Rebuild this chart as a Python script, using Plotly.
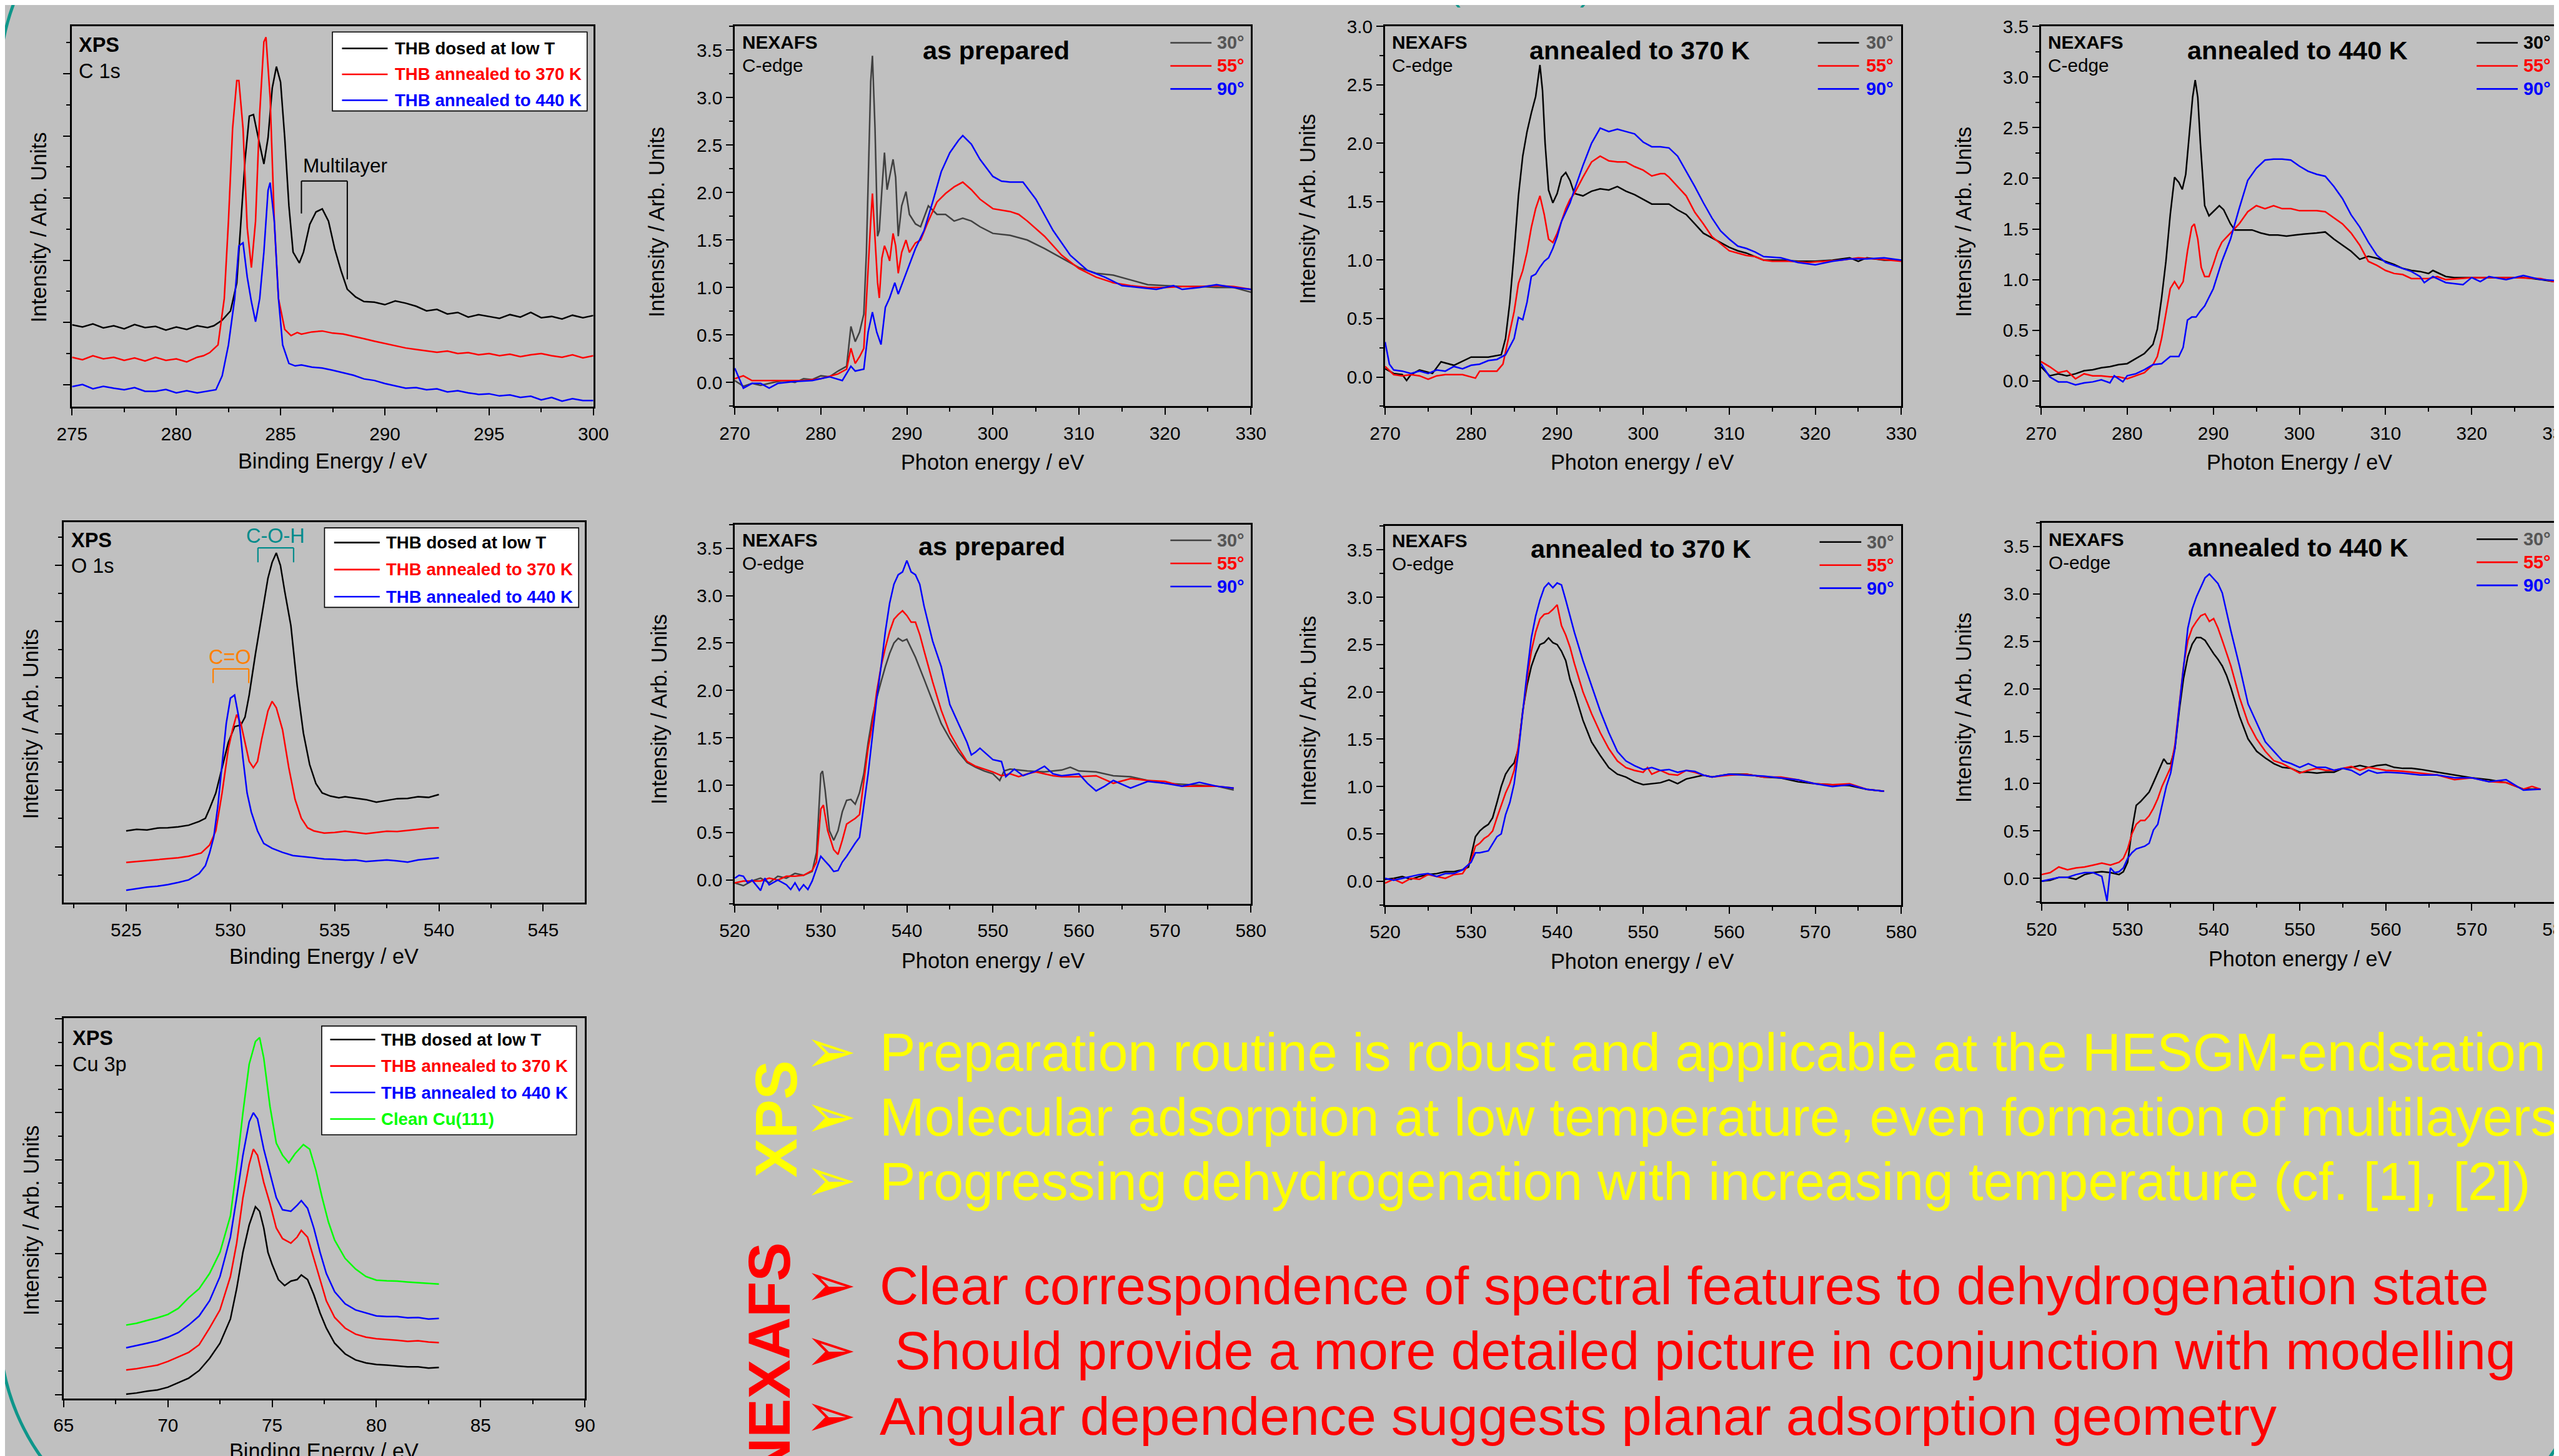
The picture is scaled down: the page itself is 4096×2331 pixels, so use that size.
import plotly.graph_objects as go

# ---------------- DATA ----------------
# XPS C 1s  [binding energy eV, intensity arb.]
c1s_low = [[275,265],[275.5,258],[276,268],[276.5,255],[277,262],[277.5,252],[278,266],[278.5,256],[279,260],[279.5,248],
           [280,258],[280.5,250],[281,262],[281.5,256],[281.8,262],[282.2,280],[282.6,310],[282.9,400],[283.1,600],[283.3,800],
           [283.5,940],[283.7,945],[283.9,880],[284.1,820],[284.2,785],[284.4,870],[284.6,1030],[284.8,1100],[285.0,1050],[285.2,870],
           [285.4,650],[285.6,500],[285.9,465],[286.1,500],[286.4,590],[286.7,630],[287.0,640],[287.3,600],[287.6,510],[287.9,440],
           [288.2,380],[288.6,355],[289,340],[289.5,338],[290,330],[290.5,342],[291,335],[291.5,325],[292,310],[292.5,315],
           [293,300],[293.5,305],[294,290],[294.5,298],[295,292],[295.5,286],[296,298],[296.5,290],[297,305],[297.5,288],
           [298,292],[298.5,284],[299,296],[299.5,288],[300,295]]
c1s_370 = [[275,160],[275.5,152],[276,165],[276.5,155],[277,160],[277.5,150],[278,158],[278.5,148],[279,160],[279.5,150],
           [280,155],[280.5,145],[281,160],[281.3,165],[281.6,175],[282.0,200],[282.3,350],[282.5,600],[282.7,900],[282.9,1055],
           [283.0,1055],[283.2,900],[283.4,580],[283.6,450],[283.8,600],[284.0,950],[284.2,1180],[284.3,1195],[284.5,1000],[284.7,600],
           [284.9,350],[285.2,250],[285.5,230],[285.8,240],[286,235],[286.5,242],[287,245],[287.5,238],[288,235],[288.5,228],
           [289,220],[289.5,212],[290,205],[290.5,198],[291,190],[291.5,185],[292,180],[292.5,176],[293,180],[293.5,172],
           [294,175],[294.5,168],[295,172],[295.5,165],[296,170],[296.5,162],[297,168],[297.5,172],[298,165],[298.5,160],
           [299,168],[299.5,158],[300,165]]
c1s_440 = [[275,65],[275.5,72],[276,58],[276.5,66],[277,60],[277.5,55],[278,62],[278.5,50],[279,50],[279.5,56],
           [280,45],[280.5,52],[281,45],[281.5,50],[281.9,55],[282.2,100],[282.5,200],[282.8,350],[283.0,520],[283.2,530],
           [283.4,420],[283.6,340],[283.8,275],[284.0,350],[284.2,500],[284.4,700],[284.5,725],[284.7,600],[284.9,350],[285.1,200],
           [285.4,140],[285.7,132],[286,135],[286.5,128],[287,125],[287.5,118],[288,110],[288.5,102],[289,90],[289.5,85],
           [290,75],[290.5,68],[291,60],[291.5,62],[292,55],[292.5,58],[293,48],[293.5,52],[294,45],[294.5,40],
           [295,42],[295.5,35],[296,38],[296.5,30],[297,34],[297.5,22],[298,30],[298.5,18],[299,26],[299.5,20],[300,20]]

# XPS O 1s
o1s_low = [[525,227],[525.5,232],[526,230],[526.5,236],[527,237],[527.5,240],[528,245],[528.5,257],[528.8,267],[529.0,297],
           [529.3,347],[529.6,427],[529.9,507],[530.2,557],[530.5,562],[530.7,587],[530.9,657],[531.2,787],[531.5,907],[531.8,1027],
           [532.0,1077],[532.2,1107],[532.4,1067],[532.6,987],[532.9,877],[533.2,687],[533.5,537],[533.8,437],[534.1,377],[534.4,347],
           [534.8,337],[535.2,332],[535.5,335],[536,330],[536.5,326],[537,318],[537.5,324],[538,329],[538.5,330],[539,335],
           [539.5,333],[540,342]]
o1s_370 = [[525,127],[525.5,130],[526,132],[526.5,136],[527,139],[527.5,142],[528,147],[528.6,157],[529.0,182],[529.3,227],
           [529.6,347],[529.9,487],[530.1,547],[530.3,595],[530.5,567],[530.7,507],[530.9,447],[531.1,427],[531.3,447],[531.5,517],
           [531.8,607],[532.0,637],[532.2,617],[532.5,547],[532.8,427],[533.1,327],[533.4,267],[533.7,237],[534.0,227],[534.5,220],
           [535,222],[535.5,226],[536,222],[536.5,218],[537,222],[537.5,226],[538,225],[538.5,228],[539,232],[539.5,236],[540,237]]
o1s_440 = [[525,39],[525.5,44],[526,49],[526.5,52],[527,57],[527.5,64],[528,72],[528.5,92],[528.8,117],[529.0,157],
           [529.2,207],[529.4,307],[529.6,437],[529.8,567],[530.0,647],[530.2,657],[530.4,587],[530.6,457],[530.8,347],[531.0,287],
           [531.3,227],[531.6,187],[532,172],[532.5,159],[533,149],[533.5,146],[534,142],[534.5,138],[535,137],[535.5,134],
           [536,135],[536.5,130],[537,132],[537.5,135],[538,132],[538.5,128],[539,135],[539.5,138],[540,142]]

# XPS Cu 3p
cu_low = [[68,14],[68.5,18],[69,24],[69.5,28],[70,37],[70.5,52],[71,67],[71.5,92],[72,132],[72.5,182],[73,262],[73.3,362],
          [73.6,482],[73.9,572],[74.2,632],[74.4,617],[74.6,562],[74.8,482],[75.0,442],[75.3,392],[75.6,372],[75.9,387],
          [76.2,392],[76.4,407],[76.7,392],[77.0,342],[77.3,282],[77.6,232],[78,182],[78.5,147],[79,127],[79.5,117],
          [80,112],[80.5,110],[81,107],[81.5,104],[82,104],[82.5,100],[83,102]]
cu_370 = [[68,94],[68.5,98],[69,104],[69.5,110],[70,122],[70.5,137],[71,152],[71.5,177],[72,232],[72.5,292],[73,402],[73.3,512],
          [73.6,662],[73.9,772],[74.1,822],[74.3,802],[74.6,712],[74.9,642],[75.2,562],[75.5,527],[75.9,512],[76.2,532],
          [76.4,554],[76.7,532],[77.0,462],[77.3,392],[77.6,322],[78,267],[78.5,232],[79,212],[79.5,202],[80,197],
          [80.5,195],[81,192],[81.5,188],[82,190],[82.5,186],[83,184]]
cu_440 = [[68,167],[68.5,174],[69,182],[69.5,190],[70,202],[70.5,217],[71,242],[71.5,272],[72,322],[72.5,402],[73,532],[73.3,662],
          [73.6,802],[73.9,912],[74.1,942],[74.3,922],[74.6,822],[74.9,742],[75.2,662],[75.5,622],[75.9,617],[76.2,637],
          [76.4,652],[76.7,627],[77.0,562],[77.3,482],[77.6,412],[78,352],[78.5,312],[79,292],[79.5,282],[80,272],
          [80.5,270],[81,270],[81.5,266],[82,267],[82.5,262],[83,264]]
cu_clean = [[68,242],[68.5,248],[69,257],[69.5,266],[70,277],[70.5,297],[71,332],[71.5,362],[72,412],[72.5,482],[73,602],[73.3,762],
            [73.6,942],[73.9,1102],[74.2,1177],[74.4,1190],[74.6,1122],[74.9,962],[75.2,842],[75.5,802],[75.8,777],[76.1,807],
            [76.5,837],[76.8,822],[77.1,752],[77.4,662],[77.7,582],[78,522],[78.5,462],[79,427],[79.5,402],[80,390],
            [80.5,388],[81,387],[81.5,384],[82,382],[82.5,380],[83,377]]

# NEXAFS C-edge, as prepared  [photon energy eV, normalised intensity]
cp_30 = [[270,0.02],[271,-0.04],[272,-0.01],[273,-0.03],[274,-0.01],[275,0.01],[276,0.02],[277,0.0],[278,0.04],[279,0.03],
         [280,0.07],[281,0.06],[282,0.12],[283,0.17],[283.5,0.59],[284,0.43],[284.5,0.53],[285,0.72],[285.3,1.37],[285.6,2.35],
         [285.8,3.17],[286,3.44],[286.3,2.68],[286.6,1.54],[286.8,1.60],[287.1,2.03],[287.4,2.42],[287.7,2.03],[288.0,2.16],[288.4,2.35],
         [288.7,2.16],[289.0,1.54],[289.4,1.86],[289.9,2.01],[290.3,1.77],[291,1.67],[291.6,1.64],[292.5,1.86],[293.5,1.77],[294.5,1.77],
         [295.5,1.70],[296.5,1.73],[297.5,1.70],[298.5,1.64],[300,1.57],[302,1.55],[304,1.50],[306,1.41],[308,1.31],[310,1.21],
         [312,1.15],[314,1.13],[316,1.08],[318,1.03],[320,1.02],[322,1.01],[324,1.01],[326,1.00],[328,1.00],[330,0.95]]
cp_55 = [[270,0.04],[271,0.07],[272,0.02],[274,0.02],[276,0.02],[278,0.02],[280,0.04],[282,0.09],[283,0.14],[283.5,0.36],
         [284,0.20],[284.5,0.27],[285,0.36],[285.4,1.05],[285.8,1.70],[286,1.99],[286.3,1.54],[286.6,1.05],[286.8,0.89],[287.1,1.31],
         [287.4,1.44],[287.7,1.37],[288.0,1.28],[288.4,1.57],[288.7,1.44],[289.0,1.15],[289.4,1.37],[289.9,1.50],[290.3,1.37],[291,1.47],
         [291.6,1.50],[292.5,1.70],[293.5,1.90],[294.5,1.99],[295.5,2.06],[296.5,2.11],[297.5,2.03],[298.5,1.93],[300,1.83],[302,1.80],
         [303,1.77],[304,1.70],[306,1.54],[308,1.34],[310,1.20],[312,1.11],[314,1.05],[316,1.02],[318,1.00],[320,1.00],
         [322,1.01],[324,1.01],[326,1.02],[328,1.01],[330,0.98]]
cp_90 = [[270,0.15],[271,-0.06],[272,-0.01],[273,-0.01],[274,-0.06],[275,-0.01],[277,0.01],[279,0.02],[281,0.06],[282.5,0.02],
         [283.5,0.17],[284,0.12],[285,0.14],[285.5,0.53],[286,0.74],[286.5,0.53],[287,0.40],[287.5,0.79],[288,0.89],[288.6,1.05],
         [289,0.93],[289.5,1.05],[290,1.18],[291,1.41],[292,1.60],[293,1.90],[294,2.22],[295,2.42],[296,2.55],[296.5,2.60],
         [297.5,2.51],[298.5,2.35],[300,2.17],[301,2.12],[302,2.11],[303.5,2.11],[305,1.93],[307,1.60],[309,1.34],[311,1.18],
         [313,1.11],[315,1.02],[317,1.00],[319,0.98],[321,1.02],[322,0.98],[324,1.00],[326,1.03],[328,1.00],[330,0.98]]

# NEXAFS C-edge, annealed to 370 K
c370_30 = [[270,0.07],[271,0.03],[272,0.02],[272.5,-0.03],[273,0.02],[274,0.06],[275.5,0.03],[276.5,0.13],[278,0.10],[280,0.17],
           [282,0.17],[283.5,0.19],[284,0.33],[284.5,0.64],[285,1.07],[285.5,1.55],[286,1.89],[286.5,2.10],[287,2.26],[287.5,2.40],
           [288,2.67],[288.3,2.45],[288.6,2.00],[289,1.60],[289.5,1.49],[290,1.57],[290.5,1.71],[291,1.75],[291.5,1.68],[292,1.57],
           [293,1.55],[294,1.59],[295,1.61],[296,1.60],[297,1.63],[298,1.59],[299,1.56],[300,1.52],[301,1.48],[302,1.48],
           [303,1.48],[304,1.43],[305,1.39],[306,1.31],[307,1.23],[308,1.19],[309,1.15],[310,1.11],[311,1.08],[312,1.06],
           [313,1.03],[314,1.00],[316,1.00],[318,0.99],[320,0.99],[322,1.00],[324,1.02],[325,0.99],[326,1.02],[328,1.00],[330,1.00]]
c370_55 = [[270,0.09],[271,0.02],[272,0.01],[273,0.02],[274,0.01],[275,-0.02],[276,0.01],[277,0.02],[279,0.02],[280.5,-0.01],
           [281,0.05],[283,0.05],[283.7,0.11],[284.5,0.38],[285,0.56],[285.5,0.80],[286,0.91],[286.5,1.07],[287,1.28],[287.5,1.44],
           [288,1.55],[288.5,1.39],[289,1.18],[289.5,1.15],[290,1.23],[290.5,1.33],[291,1.44],[291.5,1.52],[292,1.57],[293,1.71],
           [294,1.84],[295,1.89],[296,1.85],[297,1.84],[298,1.84],[299,1.80],[300,1.77],[301,1.72],[302,1.74],[302.5,1.74],
           [303,1.71],[304,1.63],[305,1.55],[306,1.41],[307,1.31],[308,1.20],[309,1.14],[310,1.08],[311,1.06],[312,1.04],
           [313,1.03],[314,1.00],[315,0.99],[317,0.99],[319,0.98],[321,0.99],[323,1.00],[325,1.02],[327,1.01],[330,0.99]]
c370_90 = [[270,0.30],[270.5,0.11],[271,0.06],[272,0.05],[273,0.03],[274,0.05],[275,0.03],[276,0.06],[277,0.05],[278,0.09],
           [279,0.07],[280,0.10],[281,0.11],[282,0.14],[283,0.15],[284,0.19],[285,0.33],[285.5,0.51],[286,0.49],[286.5,0.64],
           [287,0.86],[287.5,0.88],[288,0.94],[288.5,0.99],[289,1.02],[289.5,1.10],[290,1.20],[290.5,1.33],[291,1.41],[291.5,1.49],
           [292,1.60],[293,1.81],[294,2.00],[295,2.13],[296,2.10],[297,2.12],[298,2.10],[299,2.08],[300,2.01],[301,1.97],
           [302,1.97],[303,1.96],[304,1.89],[305,1.76],[306,1.63],[307,1.49],[308,1.36],[309,1.25],[310,1.18],[311,1.12],
           [312,1.10],[313,1.07],[314,1.03],[316,1.02],[318,0.98],[320,0.96],[322,0.99],[324,1.01],[326,1.01],[328,1.02],[330,1.00]]

# NEXAFS C-edge, annealed to 440 K
c440_30 = [[270,0.14],[271,0.05],[272,0.07],[273,0.05],[274,0.07],[275,0.10],[276,0.11],[277,0.13],[278,0.14],[279,0.16],
           [280,0.17],[281,0.22],[282,0.27],[283,0.36],[283.5,0.51],[284,0.82],[284.5,1.18],[285,1.64],[285.5,2.01],[286,1.96],
           [286.4,1.89],[286.8,2.04],[287.2,2.41],[287.6,2.80],[287.9,2.97],[288.2,2.80],[288.5,2.35],[289,1.73],[289.5,1.63],[290,1.67],
           [290.7,1.73],[291.2,1.69],[292,1.55],[292.5,1.49],[293.5,1.49],[294.5,1.49],[295.5,1.46],[296.5,1.44],[297.5,1.44],[298.5,1.43],
           [299.5,1.44],[300.5,1.45],[302,1.46],[303,1.47],[304,1.40],[305,1.34],[306,1.28],[307,1.20],[308,1.23],[309,1.21],
           [310,1.18],[311,1.15],[312,1.11],[313,1.09],[314,1.08],[315,1.06],[315.5,1.09],[317,1.03],[318,1.02],[320,1.02],
           [322,1.02],[324,1.02],[326,1.02],[328,1.00],[329.5,0.98],[330,0.98]]
c440_55 = [[270,0.19],[271,0.14],[272,0.08],[273,0.10],[274,0.02],[275,0.07],[276,0.05],[277,0.05],[278,0.04],[279,0.04],
           [280,0.02],[281,0.05],[282,0.08],[283,0.16],[283.5,0.24],[284,0.42],[284.5,0.66],[285,0.91],[285.5,0.98],[286,0.91],
           [286.5,0.98],[287,1.28],[287.5,1.52],[287.8,1.55],[288.2,1.40],[288.6,1.12],[289,1.03],[289.5,1.03],[290,1.15],[290.5,1.28],
           [291,1.37],[292,1.46],[293,1.55],[294,1.67],[295,1.73],[296,1.70],[297,1.73],[298,1.70],[299,1.70],[300,1.68],
           [302,1.68],[303,1.67],[304,1.61],[305,1.55],[306,1.46],[307,1.34],[308,1.18],[309,1.14],[310,1.09],[311,1.06],
           [312,1.05],[313,1.01],[315,1.01],[316,1.03],[317,1.00],[320,1.02],[322,1.02],[325,1.02],[328,1.01],[330,0.97]]
c440_90 = [[270,0.17],[271,0.04],[272,-0.01],[273,-0.01],[274,-0.04],[275,-0.02],[276,-0.01],[277,0.01],[278,-0.02],[278.5,0.05],
           [279.5,-0.01],[280,0.05],[281,0.07],[282,0.11],[283,0.16],[284,0.17],[285,0.24],[286,0.24],[286.5,0.33],[287,0.60],
           [287.5,0.63],[288,0.63],[288.5,0.69],[289,0.74],[290,0.91],[291,1.18],[292,1.40],[293,1.70],[294,1.98],[295,2.10],
           [296,2.18],[297,2.19],[298,2.19],[299,2.18],[300,2.12],[301,2.07],[302,2.04],[303,2.02],[304,1.92],[305,1.80],
           [306,1.64],[307,1.52],[308,1.37],[309,1.24],[310,1.17],[311,1.14],[312,1.11],[313,1.08],[314,1.03],[314.5,0.97],
           [315.5,1.03],[317,0.97],[319,0.95],[320,1.02],[321,0.98],[322,1.03],[324,1.00],[326,1.04],[328,1.00],[330,0.99]]

# NEXAFS O-edge, as prepared
op_30 = [[520,-0.03],[521,-0.06],[522,-0.01],[523,0.02],[524,-0.03],[525,0.04],[526,0.02],[527,0.07],[528,0.05],[529,0.09],
         [529.5,0.29],[530,1.12],[530.2,1.15],[530.5,0.95],[531,0.52],[531.5,0.42],[532,0.52],[532.5,0.72],[533,0.84],[533.5,0.85],
         [534,0.80],[534.5,0.92],[535,1.12],[535.5,1.45],[536,1.72],[536.5,1.92],[537,2.09],[537.5,2.25],[538,2.39],[538.5,2.50],
         [539,2.55],[539.5,2.52],[540,2.54],[540.5,2.45],[541,2.35],[542,2.12],[543,1.89],[544,1.65],[545,1.49],[546,1.35],
         [547,1.24],[548,1.19],[549,1.15],[550,1.12],[550.8,1.05],[551.3,1.15],[552,1.17],[554,1.15],[556,1.14],[558,1.16],
         [559,1.19],[560,1.15],[562,1.14],[564,1.10],[566,1.09],[568,1.05],[570,1.02],[572,1.01],[574,1.00],[576,0.99],[578,0.95]]
op_55 = [[520,-0.03],[521,-0.01],[522,-0.01],[523,-0.01],[524,0.02],[525,0.00],[526,0.04],[527,0.04],[528,0.05],[529,0.10],
         [529.5,0.19],[530,0.75],[530.3,0.79],[530.8,0.52],[531.5,0.32],[532,0.27],[532.5,0.42],[533,0.59],[533.5,0.62],[534,0.65],
         [534.5,0.69],[535,1.05],[535.5,1.39],[536,1.65],[536.5,1.99],[537,2.25],[537.5,2.45],[538,2.62],[538.5,2.75],[539,2.80],
         [539.5,2.84],[540,2.79],[540.5,2.72],[541,2.72],[541.5,2.59],[542,2.42],[543,2.09],[544,1.79],[545,1.55],[546,1.39],
         [547,1.25],[548,1.20],[549,1.17],[550,1.14],[551,1.10],[552,1.12],[553,1.09],[554,1.12],[555,1.14],[556,1.12],
         [557,1.10],[558,1.09],[560,1.09],[562,1.10],[564,1.02],[566,1.07],[568,1.05],[570,1.04],[572,0.99],[574,0.99],[576,0.99],[578,0.97]]
op_90 = [[520,0.02],[520.5,0.05],[521,0.04],[521.5,-0.03],[522,0.00],[523,-0.11],[523.5,0.02],[524,-0.05],[525,0.00],[526,-0.05],
         [526.5,-0.10],[527,-0.03],[527.5,-0.11],[528,-0.05],[528.5,-0.10],[529,-0.01],[529.5,0.12],[530,0.25],[530.5,0.20],[531,0.15],
         [531.5,0.09],[532,0.10],[532.5,0.19],[533,0.25],[533.5,0.32],[534,0.39],[534.5,0.45],[535,0.79],[535.5,1.12],[536,1.52],
         [536.5,1.92],[537,2.25],[537.5,2.62],[538,2.92],[538.5,3.12],[539,3.22],[539.5,3.25],[540,3.37],[540.5,3.25],[541,3.22],
         [541.5,3.12],[542,2.89],[543,2.52],[544,2.25],[545,1.85],[546,1.65],[547,1.45],[547.5,1.32],[548,1.35],[548.5,1.39],
         [549,1.35],[550,1.27],[551,1.25],[551.5,1.09],[552.5,1.17],[553.5,1.10],[555,1.15],[556,1.20],[557,1.12],[558,1.10],
         [560,1.12],[561,1.02],[562,0.94],[563,0.99],[564,1.05],[566,0.97],[568,1.04],[570,1.02],[572,0.99],[574,1.03],[576,0.99],[578,0.97]]

# NEXAFS O-edge, annealed to 370 K
o370_30 = [[520,0.02],[521,0.03],[522,0.05],[523,0.02],[524,0.05],[525,0.07],[526,0.08],[527,0.10],[528,0.10],[529,0.12],
           [529.7,0.15],[530,0.27],[530.5,0.47],[531,0.53],[531.5,0.57],[532,0.60],[532.5,0.67],[533,0.83],[533.5,1.00],[534,1.13],
           [534.5,1.20],[535,1.25],[535.5,1.40],[536,1.80],[536.5,2.07],[537,2.27],[537.5,2.40],[538,2.50],[538.5,2.52],[539,2.57],
           [539.5,2.52],[540,2.50],[540.5,2.43],[541,2.33],[541.5,2.13],[542,2.00],[543,1.70],[544,1.47],[545,1.33],[546,1.20],
           [547,1.13],[548,1.10],[549,1.05],[550,1.02],[551,1.03],[552,1.04],[553,1.07],[554,1.03],[555,1.08],[556,1.10],
           [557,1.12],[558,1.10],[560,1.13],[562,1.13],[564,1.10],[566,1.09],[568,1.05],[570,1.03],[572,1.02],[574,1.01],[576,0.97],[578,0.95]]
o370_55 = [[520,-0.02],[521,0.02],[522,-0.02],[523,0.03],[524,0.02],[525,0.07],[526,0.05],[527,0.03],[528,0.07],[529,0.08],
           [530,0.22],[530.5,0.37],[531,0.40],[531.5,0.45],[532,0.48],[532.5,0.53],[533,0.67],[533.5,0.80],[534,0.93],[534.5,1.03],
           [535,1.17],[535.5,1.43],[536,1.80],[536.5,2.13],[537,2.43],[537.5,2.63],[538,2.77],[538.5,2.82],[539,2.83],[539.5,2.87],
           [540,2.92],[540.5,2.70],[541,2.60],[541.5,2.47],[542,2.30],[543,2.00],[544,1.77],[545,1.57],[546,1.40],[547,1.27],
           [548,1.20],[549,1.17],[550,1.15],[550.5,1.20],[551,1.13],[552,1.17],[553,1.13],[554,1.12],[555,1.17],[556,1.15],
           [557,1.12],[558,1.10],[560,1.12],[562,1.13],[564,1.10],[566,1.10],[568,1.07],[570,1.03],[572,1.02],[574,1.03],[576,0.97],[578,0.95]]
o370_90 = [[520,0.03],[521,0.01],[522,0.03],[523,0.05],[524,0.07],[525,0.08],[526,0.05],[527,0.08],[528,0.08],[529,0.12],
           [530,0.20],[530.5,0.30],[531,0.30],[532,0.32],[533,0.47],[533.5,0.50],[534,0.70],[534.5,0.83],[535,1.03],[535.5,1.37],
           [536,1.80],[536.5,2.20],[537,2.57],[537.5,2.80],[538,2.97],[538.5,3.10],[539,3.15],[539.5,3.10],[540,3.15],[540.5,3.13],
           [541,2.97],[541.5,2.80],[542,2.63],[543,2.33],[544,2.07],[545,1.80],[546,1.57],[547,1.37],[548,1.27],[549,1.22],
           [550,1.18],[551,1.20],[552,1.17],[553,1.18],[554,1.15],[555,1.17],[556,1.16],[557,1.12],[558,1.10],[560,1.13],
           [562,1.12],[564,1.11],[566,1.09],[568,1.07],[570,1.03],[572,1.00],[574,1.02],[576,0.97],[578,0.95]]

# NEXAFS O-edge, annealed to 440 K
o440_30 = [[520,-0.03],[521,-0.02],[522,0.01],[523,0.01],[524,-0.01],[525,0.04],[526,0.06],[527,0.07],[528,0.06],[529,0.04],
           [529.5,0.07],[530,0.17],[530.5,0.51],[531,0.77],[531.5,0.81],[532,0.86],[532.5,0.91],[533,1.01],[533.5,1.11],[534,1.21],
           [534.2,1.26],[534.6,1.21],[535,1.21],[535.5,1.37],[536,1.77],[536.5,2.11],[537,2.34],[537.5,2.47],[538,2.54],[538.5,2.54],
           [539,2.51],[539.5,2.44],[540,2.37],[540.5,2.31],[541,2.24],[541.5,2.14],[542,2.01],[543,1.71],[544,1.47],[545,1.34],
           [546,1.27],[547,1.21],[548,1.17],[549,1.16],[550,1.12],[551,1.12],[552,1.11],[553,1.12],[554,1.12],[555,1.16],
           [556,1.17],[557,1.19],[558,1.17],[559,1.19],[560,1.20],[561,1.17],[562,1.16],[563,1.16],[564,1.15],[566,1.12],
           [568,1.09],[570,1.06],[572,1.04],[574,1.01],[576,0.94],[578,0.94]]
o440_55 = [[520,0.04],[521,0.06],[522,0.12],[523,0.09],[524,0.11],[525,0.12],[526,0.14],[527,0.16],[528,0.14],[529,0.17],
           [529.5,0.21],[530,0.31],[530.5,0.47],[531,0.57],[531.5,0.61],[532,0.61],[532.5,0.66],[533,0.74],[533.5,0.84],[534,0.97],
           [534.5,1.07],[535,1.17],[535.5,1.41],[536,1.84],[536.5,2.24],[537,2.51],[537.5,2.64],[538,2.71],[538.5,2.77],[539,2.79],
           [539.5,2.71],[540,2.74],[540.5,2.64],[541,2.51],[541.5,2.37],[542,2.24],[543,1.91],[544,1.64],[545,1.47],[546,1.34],
           [547,1.24],[548,1.21],[549,1.16],[550,1.11],[551,1.14],[552,1.16],[553,1.14],[554,1.14],[555,1.16],[556,1.18],
           [557,1.14],[558,1.17],[560,1.14],[562,1.13],[564,1.11],[566,1.09],[568,1.04],[570,1.06],[572,1.02],[574,1.01],
           [576,0.94],[577,0.97],[578,0.94]]
o440_90 = [[520,-0.03],[521,-0.01],[522,0.01],[523,0.01],[524,0.04],[525,0.06],[526,0.06],[527,0.02],[527.6,-0.24],[528,0.11],
           [528.5,0.06],[529,0.07],[529.5,0.11],[530,0.21],[530.5,0.27],[531,0.31],[532,0.34],[532.5,0.37],[533,0.51],[533.5,0.57],
           [534,0.77],[534.5,0.97],[535,1.11],[535.5,1.37],[536,1.81],[536.5,2.24],[537,2.64],[537.5,2.84],[538,2.97],[538.5,3.07],
           [539,3.17],[539.5,3.21],[540,3.16],[540.5,3.11],[541,3.01],[541.5,2.81],[542,2.61],[543,2.24],[544,1.84],[545,1.64],
           [546,1.44],[547,1.34],[548,1.24],[549,1.21],[550,1.17],[551,1.21],[552,1.17],[553,1.17],[554,1.14],[555,1.16],
           [556,1.14],[557,1.09],[558,1.14],[559,1.11],[560,1.12],[562,1.11],[564,1.09],[566,1.09],[568,1.06],[570,1.06],
           [572,1.02],[574,1.04],[576,0.93],[578,0.94]]

xps_labels = ["THB dosed at low T", "THB annealed to 370 K", "THB annealed to 440 K", "Clean Cu(111)"]
angle_labels = ["30°", "55°", "90°"]
summary_xps = ["Preparation routine is robust and applicable at the HESGM-endstation",
               "Molecular adsorption at low temperature, even formation of multilayers",
               "Progressing dehydrogenation with increasing temperature (cf. [1], [2])"]
summary_nexafs = ["Clear correspondence of spectral features to dehydrogenation state",
                  " Should provide a more detailed picture in conjunction with modelling",
                  "Angular dependence suggests planar adsorption geometry"]

# ---------------- LAYOUT HELPERS ----------------
W, H = 4541, 2584
S = 0.902
FONT = "Liberation Sans, Arial, Helvetica, sans-serif"
BG = "#C0C0C0"
GRAY = "#404040"
GRAYTXT = "#555555"
RED, BLUE, GREEN = "#FF0000", "#0000FF", "#00FF00"
TEAL = "#0E968A"


def fx(x):
    return x / W


def fy(y):
    return 1 - y / H


def fs(p):
    return p * S


fig = go.Figure()
ann = []
shapes = []


def text(x, y, s, size, color="black", xanchor="left", yanchor="middle", angle=0, family=FONT):
    ann.append(dict(x=fx(x), y=fy(y), xref="paper", yref="paper", text=s, showarrow=False,
                    xanchor=xanchor, yanchor=yanchor, textangle=angle, borderpad=0,
                    font=dict(family=family, size=fs(size), color=color)))


def pline(x0, y0, x1, y1, color, width):
    shapes.append(dict(type="line", xref="paper", yref="paper", x0=fx(x0), y0=fy(y0), x1=fx(x1), y1=fy(y1),
                       line=dict(color=color, width=width)))


axes = {}


def make_axes(n, box, xr, xdt, xtick0, xminor, yr, ydt, yminor, ytick0=0, ylabels=True):
    l, r, t, b = box
    xs = "" if n == 1 else str(n)
    tickfont = dict(family=FONT, size=fs(33), color="black")
    common = dict(showline=True, linecolor="black", linewidth=2.8, mirror=True, ticks="outside", automargin=False,
                  ticklen=11, tickwidth=2, tickcolor="black", showgrid=False, zeroline=False, tickfont=tickfont,
                  ticklabeloverflow="allow")
    axes["xaxis" + xs] = dict(domain=[fx(l), fx(r)], range=xr, anchor="y" + xs, dtick=xdt, tick0=xtick0,
                             minor=dict(dtick=xminor, tick0=xtick0, ticks="outside", ticklen=6, tickwidth=2, tickcolor="black"),
                             ticklabelstandoff=4, **common)
    axes["yaxis" + xs] = dict(domain=[fy(b), fy(t)], range=yr, anchor="x" + xs, dtick=ydt, tick0=ytick0,
                             minor=dict(dtick=yminor, tick0=ytick0, ticks="outside", ticklen=6, tickwidth=2, tickcolor="black"),
                             showticklabels=ylabels, tickformat=".1f", **common)
    return "x" + xs, "y" + xs


def add(xa, ya, pairs, color, width=2.5):
    fig.add_trace(go.Scatter(x=[p[0] for p in pairs], y=[p[1] for p in pairs], xaxis=xa, yaxis=ya, mode="lines",
                             line=dict(color=color, width=width), showlegend=False, hoverinfo="skip"))


# ---------------- PANELS ----------------
# 1 XPS C1s
xa, ya = make_axes(1, (119, 1044, 38, 713), [275, 300], 5, 275, 2.5, [0, 1230], 201, 100.5, 72, False)
for d, c in zip([c1s_low, c1s_370, c1s_440], ["black", RED, BLUE]):
    add(xa, ya, d, c)
for (x0, y0, x1, y1) in [(286.0, 730, 288.2, 730), (286.0, 730, 286.0, 625), (288.2, 730, 288.2, 412)]:
    shapes.append(dict(type="line", xref="x", yref="y", x0=x0, y0=y0, x1=x1, y1=y1, line=dict(color="black", width=2)))
ann.append(dict(x=288.1, y=780, xref="x", yref="y", text="Multilayer", showarrow=False,
                font=dict(family=FONT, size=fs(35), color="black")))

# 2-4 NEXAFS C-edge
cbox = [(1295, 2211, 38, 712), (2449, 3365, 38, 712), (3613, 4530, 38, 712)]
cyr = [[-0.25, 3.75], [-0.25, 3.0], [-0.25, 3.5]]
cdata = [(cp_30, cp_55, cp_90, GRAY), (c370_30, c370_55, c370_90, "black"), (c440_30, c440_55, c440_90, "black")]
for i in range(3):
    xa, ya = make_axes(2 + i, cbox[i], [270, 330], 10, 270, 5, cyr[i], 0.5, 0.25)
    d30, d55, d90, c30 = cdata[i]
    add(xa, ya, d30, c30)
    add(xa, ya, d55, RED)
    add(xa, ya, d90, BLUE)

# 5 XPS O1s
xa, ya = make_axes(5, (104, 1029, 918, 1593), [522, 547], 5, 525, 2.5, [0, 1204], 178, 89, 177, False)
for d, c in zip([o1s_low, o1s_370, o1s_440], ["black", RED, BLUE]):
    add(xa, ya, d, c)
TEALTXT = "#008B8B"
ORANGE = "#FF8000"
for (x0, y0, x1, y1) in [(531.32, 1123, 533.03, 1123), (531.32, 1123, 531.32, 1077), (533.03, 1123, 533.03, 1077)]:
    shapes.append(dict(type="line", xref="x5", yref="y5", x0=x0, y0=y0, x1=x1, y1=y1, line=dict(color=TEALTXT, width=2.2)))
for (x0, y0, x1, y1) in [(529.17, 740, 530.88, 740), (529.17, 740, 529.17, 695), (530.88, 740, 530.88, 695)]:
    shapes.append(dict(type="line", xref="x5", yref="y5", x0=x0, y0=y0, x1=x1, y1=y1, line=dict(color=ORANGE, width=2.2)))
ann.append(dict(x=532.17, y=1161, xref="x5", yref="y5", text="C-O-H", showarrow=False,
                font=dict(family=FONT, size=fs(36), color=TEALTXT)))
ann.append(dict(x=529.99, y=778, xref="x5", yref="y5", text="C=O", showarrow=False,
                font=dict(family=FONT, size=fs(36), color=ORANGE)))

# 6-8 NEXAFS O-edge
obox = [(1295, 2211, 922, 1595), (2449, 3365, 925, 1597), (3614, 4530, 919, 1592)]
odata = [(op_30, op_55, op_90, GRAY), (o370_30, o370_55, o370_90, "black"), (o440_30, o440_55, o440_90, "black")]
for i in range(3):
    xa, ya = make_axes(6 + i, obox[i], [520, 580], 10, 520, 5, [-0.25, 3.75], 0.5, 0.25)
    d30, d55, d90, c30 = odata[i]
    add(xa, ya, d30, c30)
    add(xa, ya, d55, RED)
    add(xa, ya, d90, BLUE)

# 9 XPS Cu3p
xa, ya = make_axes(9, (104, 1029, 1798, 2473), [65, 90], 5, 65, 2.5, [0, 1254], 155, 77.5, 12, False)
for d, c in zip([cu_low, cu_370, cu_440, cu_clean], ["black", RED, BLUE, GREEN]):
    add(xa, ya, d, c)

# ---------------- TEXT / LEGENDS ----------------
AX = 38
for (x, y) in [(581, 809), (566, 1688), (566, 2566)]:
    text(x, y, "Binding Energy / eV", AX, xanchor="center")
for (x, y) in [(1753, 811), (2906, 811), (1754, 1696), (2906, 1697), (4073, 1693)]:
    text(x, y, "Photon energy / eV", AX, xanchor="center")
text(4071, 811, "Photon Energy / eV", AX, xanchor="center")
for (x, y) in [(60, 395), (1157, 385), (2311, 362), (3476, 385), (46, 1276), (1160, 1250), (2313, 1253), (3476, 1247), (46, 2157)]:
    text(x, y, "Intensity / Arb. Units", AX, xanchor="center", angle=-90)

for (x, y, sub) in [(130, 71, "C 1s"), (116, 950, "O 1s"), (119, 1834, "Cu 3p")]:
    text(x, y, "<b>XPS</b>", 36)
    text(x, y + 46, sub, 36)
for (x, y, sub) in [(1307, 66, "C-edge"), (2460, 66, "C-edge"), (3624, 66, "C-edge"),
                    (1307, 949, "O-edge"), (2460, 951, "O-edge"), (3625, 948, "O-edge")]:
    text(x, y, "<b>NEXAFS</b>", 33)
    text(x, y + 41, sub, 33)

for (x, y, s) in [(1759, 80, "as prepared"), (2901, 80, "annealed to 370 K"), (4068, 80, "annealed to 440 K"),
                  (1751, 960, "as prepared"), (2903, 965, "annealed to 370 K"), (4069, 963, "annealed to 440 K")]:
    text(x, y, "<b>%s</b>" % s, 46, xanchor="center")

nleg = [(2068, 2141, 2150, 67, GRAY, GRAYTXT), (3217, 3290, 3301, 67, "black", GRAYTXT), (4386, 4459, 4468, 67, "black", "black"),
        (2068, 2141, 2150, 950, GRAY, GRAYTXT), (3220, 3294, 3303, 953, "black", GRAYTXT), (4386, 4459, 4468, 948, "black", GRAYTXT)]
for (l0, l1, tx, y0, c30, t30) in nleg:
    for k, (lc, tc) in enumerate([(c30, t30), (RED, RED), (BLUE, BLUE)]):
        yy = y0 + k * 41
        pline(l0, yy, l1, yy, lc, 2.6)
        text(tx, yy, "<b>%s</b>" % angle_labels[k], 32, color=tc)

xleg = [((581, 1033, 48, 188), 598, 679, 691, [77, 123, 169]),
        ((567, 1018, 928, 1069), 584, 665, 675, [954, 1002, 1050]),
        ((562, 1014, 1812, 2005), 577, 657, 666, [1836, 1883, 1930, 1977])]
xcols = ["black", RED, BLUE, GREEN]
for (bx, l0, l1, tx, rows) in xleg:
    shapes.append(dict(type="rect", xref="paper", yref="paper", x0=fx(bx[0]), x1=fx(bx[1]), y0=fy(bx[3]), y1=fy(bx[2]),
                       fillcolor="white", line=dict(color="black", width=1.6)))
    for k, yy in enumerate(rows):
        pline(l0, yy, l1, yy, xcols[k], 2.6)
        text(tx, yy, "<b>%s</b>" % xps_labels[k], 30.6, color=xcols[k])

# summary text block
YEL = "#FFFF00"
base_x = 1551
for s, base in zip(summary_xps, [1896, 2011, 2125]):
    text(1465, base - 40, "➢", 110, color=YEL, xanchor="center", family="DejaVu Sans")
    text(base_x, base - 38, s, 95.5, color=YEL)
for s, base in zip(summary_nexafs, [2311, 2426, 2542]):
    text(1465, base - 40, "➢", 110, color=RED, xanchor="center", family="DejaVu Sans")
    text(base_x, base - 38, s, 95.5, color=RED)
text(1369, 1977, "<b>XPS</b>", 104, color=YEL, xanchor="center", angle=-90)
text(1356, 2407, "<b>NEXAFS</b>", 104, color=RED, xanchor="center", angle=-90)

# teal fragments of the cut-off poster heading
text(2573, 6, "(", 60, color=TEAL, xanchor="center", yanchor="bottom")
text(2805, 6, ")", 60, color=TEAL, xanchor="center", yanchor="bottom")

# teal rounded poster frame
L, T, Rt, B, R = -10, -262, 4590, 2745, 400
k = 0.5523 * R


def P(x, y):
    return "%.6f,%.6f" % (fx(x), fy(y))


path = ("M" + P(L + R, T) + " L" + P(Rt - R, T) +
        " C" + P(Rt - R + k, T) + " " + P(Rt, T + R - k) + " " + P(Rt, T + R) +
        " L" + P(Rt, B - R) +
        " C" + P(Rt, B - R + k) + " " + P(Rt - R + k, B) + " " + P(Rt - R, B) +
        " L" + P(L + R, B) +
        " C" + P(L + R - k, B) + " " + P(L, B - R + k) + " " + P(L, B - R) +
        " L" + P(L, T + R) +
        " C" + P(L, T + R - k) + " " + P(L + R - k, T) + " " + P(L + R, T) + " Z")
shapes.append(dict(type="path", xref="paper", yref="paper", path=path, line=dict(color=TEAL, width=5), fillcolor="rgba(0,0,0,0)"))

fig.update_layout(width=4096, height=2331, margin=dict(l=0, r=0, t=0, b=0, pad=0, autoexpand=False),
                  paper_bgcolor=BG, plot_bgcolor=BG,
                  showlegend=False, annotations=ann, shapes=shapes, font=dict(family=FONT, color="black"), **axes)
fig.write_html("out.html")
